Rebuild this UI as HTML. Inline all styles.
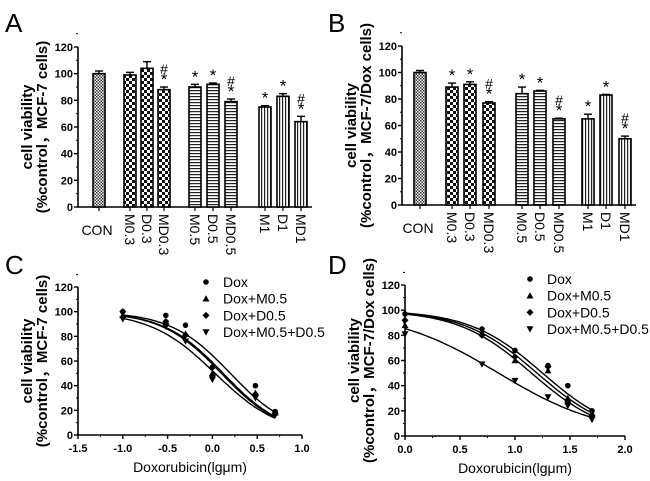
<!DOCTYPE html>
<html><head><meta charset="utf-8"><style>
body{margin:0;background:#fff}
svg{display:block;font-family:"Liberation Sans",Arial,sans-serif}
</style></head><body>
<svg id="fig" width="650" height="481" viewBox="0 0 650 481">
<defs>
<pattern id="pCon" width="3" height="3" patternUnits="userSpaceOnUse"><rect width="3" height="3" fill="#fff"/><rect width="1.5" height="1.5" fill="#333"/><rect x="1.5" y="1.5" width="1.5" height="1.5" fill="#333"/></pattern>
<pattern id="pChk" width="6" height="6" patternUnits="userSpaceOnUse"><rect width="6" height="6" fill="#fff"/><rect width="3" height="3" fill="#111"/><rect x="3" y="3" width="3" height="3" fill="#111"/></pattern>
<pattern id="pHor" width="4" height="3" patternUnits="userSpaceOnUse"><rect width="4" height="3" fill="#fff"/><rect width="4" height="1.2" fill="#222"/></pattern>
<pattern id="pVer" width="3" height="4" patternUnits="userSpaceOnUse"><rect width="3" height="4" fill="#fff"/><rect width="1.2" height="4" fill="#222"/></pattern>
</defs>
</svg>
<script>
// Bar panels data
const barCats = ["CON","M0.3","D0.3","MD0.3","M0.5","D0.5","MD0.5","M1","D1","MD1"];
const barValsA = [100,99,104,88,90,92,79,75,83,64];
const barErrA = [2,2,5,2,2,1,2,1,2,4];
const barMarkA = ["","","","#*","*","*","#*","*","*","#*"];
const barValsB = [100,89,91,77,84,86,65,65,83,50];
const barErrB = [1.5,3,2,1,5,0.5,0.5,3.5,0.5,2];
const barMarkB = ["","*","*","#*","*","*","#*","*","*","#*"];
const yTicks = [0,20,40,60,80,100,120];
// Dose-response data
const seriesNames = ["Dox","Dox+M0.5","Dox+D0.5","Dox+M0.5+D0.5"];
const cX = [-1,-0.52,-0.3,0,0.48,0.7];
const cDox = [100,97,89,55,40,19];
const cM = [97,92,82,50,34,18];
const cD = [100,92,81,48,33,17];
const cMD = [94,88,76,45,30,16];
const cIC50 = [0.2,0.12,0.1,0.03];
const cHill = [1.3,1.3,1.3,1.2];
const cXTicks = [-1.5,-1.0,-0.5,0.0,0.5,1.0];
const dX = [0,0.7,1,1.3,1.48,1.7];
const dDox = [97,85,68,56,40,20];
const dM = [88,82,60,52,30,18];
const dD = [92,80,63,55,27,15];
const dMD = [81,57,44,31,24,13];
const dIC50 = [1.25,1.2,1.15,0.85];
const dHill = [1.3,1.3,1.3,0.9];
const dXTicks = [0.0,0.5,1.0,1.5,2.0];

const NS="http://www.w3.org/2000/svg";
const svg=document.getElementById('fig');
function mk(tag,attrs,parent,text){const e=document.createElementNS(NS,tag);for(const k in attrs)e.setAttribute(k,attrs[k]);if(text!==undefined)e.textContent=text;(parent||svg).appendChild(e);return e;}

function yAxis(g,ax,y0,y1,ymax,title1,title2){
  const sy=v=>y0-(v/ymax)*(y0-y1);
  const ax_=mk('line',{x1:ax,y1:y0,x2:ax,y2:y1,stroke:'#000','stroke-width':1.6},g);
  
  yTicks.forEach(t=>{
    mk('line',{x1:ax-4,y1:sy(t),x2:ax,y2:sy(t),stroke:'#000','stroke-width':1.4},g);
    mk('line',{x1:ax-2,y1:sy(t+10),x2:ax,y2:sy(t+10),stroke:'#000','stroke-width':1},g);
    const l=mk('text',{x:ax-5,y:sy(t)+4,'text-anchor':'end','font-size':11,'font-weight':'bold'},g,t);
    
  });
  const cy=(y0+y1)/2;
  const t1=mk('text',{x:0,y:0,'text-anchor':'middle','font-size':15,'font-weight':'bold',transform:`translate(${ax-46},${cy}) rotate(-90)`},g,title1);
  
  const t2=mk('text',{x:0,y:0,'text-anchor':'middle','font-size':15,'font-weight':'bold','font-family':'"Liberation Sans","Noto Sans CJK SC",sans-serif',transform:`translate(${ax-31},${cy}) rotate(-90)`},g,title2);
  
  return sy;
}

function barPanel(name,letter,lx,ax,xEnd,y0,y1,centers,vals,errs,marks,title2){
  const g=mk('g',{});
  
  const L=mk('text',{x:lx,y:32,'font-size':26},g,letter);
  
  const sy=yAxis(g,ax,y0,y1,120,'cell viability',title2);
  const xa=mk('line',{x1:ax,y1:y0,x2:xEnd,y2:y0,stroke:'#000','stroke-width':1.6},g);
  
  const fills=['pCon','pChk','pChk','pChk','pHor','pHor','pHor','pVer','pVer','pVer'];
  vals.forEach((v,i)=>{
    const cx=centers[i],w=12;
    const b=mk('rect',{x:cx-w/2,y:sy(v),width:w,height:y0-sy(v),fill:`url(#${fills[i]})`,stroke:'#000','stroke-width':1.6},g);
    
    
    const e=errs[i];
    mk('line',{x1:cx,y1:sy(v),x2:cx,y2:sy(v+e),stroke:'#000','stroke-width':1.4},g);
    mk('line',{x1:cx-4,y1:sy(v+e),x2:cx+4,y2:sy(v+e),stroke:'#000','stroke-width':1.4},g);
    mk('line',{x1:cx,y1:y0,x2:cx,y2:y0+4,stroke:'#000','stroke-width':1.2},g);
    const m=marks[i];const top=sy(v+e);
    if(m.includes('*')){const s=mk('text',{x:cx,y:top-2,'text-anchor':'middle','font-size':17},g,'*');}
    if(m.includes('#')){const s=mk('text',{x:cx,y:top-13,'text-anchor':'middle','font-size':14},g,'#');}
    let lab;
    if(i===0){lab=mk('text',{x:cx-2,y:y0+28,'text-anchor':'middle','font-size':14},g,barCats[i]);}
    else{lab=mk('text',{x:0,y:0,'font-size':14,transform:`translate(${cx-5},${y0+7}) rotate(90)`},g,barCats[i]);}
    
  });
}
barPanel('panel-a-bar-chart','A',5,78,312,207,47,[99,130,147,164,195,213,231,265,283,301],barValsA,barErrA,barMarkA,'(%control\uFF0CMCF-7 cells)');
barPanel('panel-b-bar-chart','B',328,402,636,205,46,[420,452,470,489,522,540,559,588,606,625],barValsB,barErrB,barMarkB,'(%control\uFF0CMCF-7/Dox cells)');

function marker(g,type,x,y,s){
  let e;
  if(type===0)e=mk('circle',{cx:x,cy:y,r:s*0.8},g);
  else if(type===1)e=mk('polygon',{points:`${x},${y-s} ${x-s},${y+s*0.8} ${x+s},${y+s*0.8}`},g);
  else if(type===2)e=mk('polygon',{points:`${x},${y-s} ${x+s},${y} ${x},${y+s} ${x-s},${y}`},g);
  else e=mk('polygon',{points:`${x},${y+s} ${x-s},${y-s*0.8} ${x+s},${y-s*0.8}`},g);
  e.setAttribute('fill','#000');
  return e;
}

function curvePanel(name,letter,lx,ax,xmin,xmax,xEnd,y0,y1,xs,ser,ic,hill,xticks,legX,legY,title2){
  const g=mk('g',{});
  
  const L=mk('text',{x:lx,y:274,'font-size':26},g,letter);
  
  const sy=yAxis(g,ax,y0,y1,120,'cell viability',title2);
  const sx=v=>ax+(v-xmin)/(xmax-xmin)*(xEnd-ax);
  const xa=mk('line',{x1:ax,y1:y0,x2:xEnd,y2:y0,stroke:'#000','stroke-width':1.6},g);
  
  xticks.forEach((t,i)=>{
    mk('line',{x1:sx(t),y1:y0,x2:sx(t),y2:y0+4,stroke:'#000','stroke-width':1.4},g);
    if(i<xticks.length-1)mk('line',{x1:sx(t+(xticks[1]-xticks[0])/2),y1:y0,x2:sx(t+(xticks[1]-xticks[0])/2),y2:y0+2,stroke:'#000','stroke-width':1},g);
    const l=mk('text',{x:sx(t),y:y0+17,'text-anchor':'middle','font-size':11,'font-weight':'bold'},g,t.toFixed(1));
    
  });
  const xt=mk('text',{x:(ax+xEnd)/2,y:y0+37,'text-anchor':'middle','font-size':14},g,'Doxorubicin(lg\u03bcm)');
  
  const lo=xs[0],hi=xs[xs.length-1];
  ser.forEach((arr,si)=>{
    let d='';
    for(let k=0;k<=60;k++){const x=lo+(hi-lo)*k/60;const y=100/(1+Math.pow(10,(x-ic[si])*hill[si]));d+=(k?'L':'M')+sx(x).toFixed(1)+','+sy(y).toFixed(1);}
    const p=mk('path',{d:d,fill:'none',stroke:'#000','stroke-width':1.4},g);
    
    
    arr.forEach((v,j)=>{
      const m=marker(g,si,sx(xs[j]),sy(v),3.5);
      
      
    });
    const lm=marker(g,si,legX,legY+si*16.7,3.5);
    
    const lt=mk('text',{x:legX+17,y:legY+si*16.7+5,'font-size':14},g,seriesNames[si]);
    
  });
}
curvePanel('panel-c-dose-response','C',5,78,-1.5,1.0,302,435,287,cX,[cDox,cM,cD,cMD],cIC50,cHill,cXTicks,206,282,'(%control\uFF0CMCF-7 cells)');
curvePanel('panel-d-dose-response','D',328,405,0,2.0,625,436,285,dX,[dDox,dM,dD,dMD],dIC50,dHill,dXTicks,530,279,'(%control\uFF0CMCF-7/Dox cells)');
</script>
</body></html>
